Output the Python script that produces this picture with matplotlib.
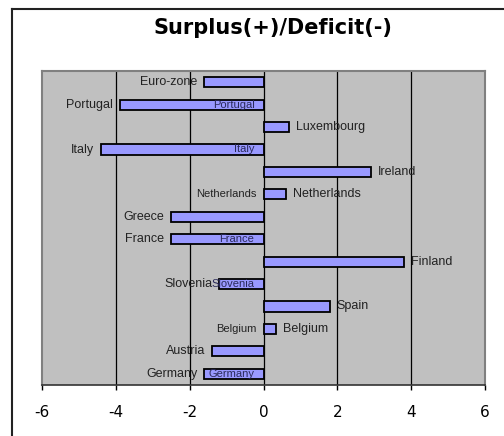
import numpy as np
import matplotlib
matplotlib.use('Agg')
from matplotlib import pyplot as plt
from matplotlib.lines import Line2D

plt.rcParams['axes.unicode_minus'] = False

# countries, top to bottom
countries = ['Euro-zone', 'Portugal', 'Luxembourg', 'Italy', 'Ireland',
             'Netherlands', 'Greece', 'France', 'Finland', 'Slovenia',
             'Spain', 'Belgium', 'Austria', 'Germany']
balance = [-1.6, -3.9, 0.7, -4.4, 2.9, 0.6, -2.5, -2.5, 3.8, -1.2,
           1.8, 0.35, -1.4, -1.6]

# which names appear on which side of the bars
left_names = ['Euro-zone', 'Portugal', 'Italy', 'Netherlands', 'Greece',
              'France', 'Slovenia', 'Belgium', 'Austria', 'Germany']
right_names = ['Luxembourg', 'Ireland', 'Netherlands', 'Finland', 'Spain',
               'Belgium']
inner_names = ['Portugal', 'Italy', 'France', 'Slovenia', 'Germany']

xticks = [-6, -4, -2, 0, 2, 4, 6]

fig = plt.figure(figsize=(5.04, 4.36), dpi=100)
W, H = 504.0, 436.0
ax = fig.add_axes([42 / W, 1 - 385 / H, (485 - 42) / W, (385 - 71) / H])
ax.set_facecolor('#c0c0c0')

y = np.arange(len(countries))
ax.barh(y, balance, height=0.45, color='#9999ff', edgecolor='black',
        linewidth=1.3, zorder=3)

for gx in xticks[1:-1]:
    ax.axvline(gx, color='black', linewidth=0.9, zorder=1)

lab = dict(family=['Liberation Sans', 'DejaVu Sans'], color='#222222',
           va='center', zorder=4)
for i, (name, v) in enumerate(zip(countries, balance)):
    if name in left_names:
        x0 = min(v, 0)
        size = 9 if v < 0 else 8
        ax.annotate(name, (x0, i), xytext=(-5, 0), textcoords='offset points',
                    ha='right', fontsize=size, **lab)
    if name in right_names:
        ax.annotate(name, (v, i), xytext=(5, 0), textcoords='offset points',
                    ha='left', fontsize=9, **lab)
    if name in inner_names:
        ax.annotate(name, (0, i), xytext=(-6.5, 0), textcoords='offset points',
                    ha='right', fontsize=8, family=['Liberation Sans', 'DejaVu Sans'],
                    color='#2a2a5a', va='center', zorder=4)

ax.set_xlim(-6, 6)
ax.set_ylim(len(countries) - 0.5, -0.5)
ax.set_xticks(xticks)
ax.set_yticks([])
ax.tick_params(axis='x', direction='out', length=3.5, width=1, pad=11,
               labelsize=11, colors='black')
for t in ax.get_xticklabels():
    t.set_family('DejaVu Sans')

for side in ['left', 'top', 'right']:
    ax.spines[side].set_color('#808080')
    ax.spines[side].set_linewidth(1.5)
ax.spines['bottom'].set_color('#333333')
ax.spines['bottom'].set_linewidth(1.2)

fig.text(273 / W, 1 - 28 / H, 'Surplus(+)/Deficit(-)', ha='center',
         va='center', fontsize=15, fontweight='bold', family='DejaVu Sans')

# outer chart frame
fig.add_artist(Line2D([12 / W, 12 / W], [0, 1 - 9 / H], color='#222222',
                      linewidth=1.5, transform=fig.transFigure))
fig.add_artist(Line2D([12 / W, 1], [1 - 9 / H, 1 - 9 / H], color='#222222',
                      linewidth=1.5, transform=fig.transFigure))

fig.savefig('out.png', dpi=100)
